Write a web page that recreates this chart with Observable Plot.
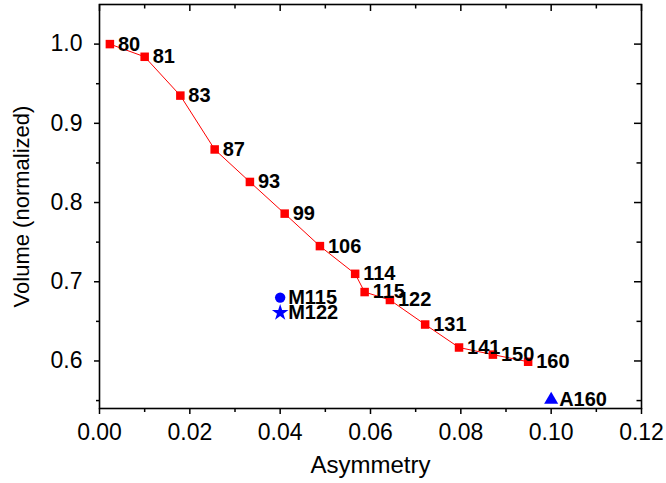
<!DOCTYPE html>
<html>
<head>
<meta charset="utf-8">
<script src="https://cdn.jsdelivr.net/npm/d3@7"></script>
<script src="https://cdn.jsdelivr.net/npm/@observablehq/plot@0.6"></script>
<style>
  html, body { margin: 0; padding: 0; background: #fff; }
  #chart svg { display: block; font-family: "Liberation Sans", Arial, sans-serif; }
</style>
</head>
<body>
<div id="chart"></div>
<script>
// Main series: label, asymmetry, normalized volume
const names = ["80", "81", "83", "87", "93", "99", "106", "114", "115", "122", "131", "141", "150", "160"];
const asym  = [0.0023, 0.0100, 0.0179, 0.0255, 0.0333, 0.0410, 0.0488, 0.0566, 0.0587, 0.0643, 0.0721, 0.0796, 0.0871, 0.0949];
const vol   = [1.000, 0.984, 0.935, 0.867, 0.826, 0.786, 0.745, 0.710, 0.687, 0.677, 0.646, 0.617, 0.608, 0.599];

// Separate reference points
const extraNames   = ["M115", "M122", "A160"];
const extraAsym    = [0.040, 0.040, 0.100];
const extraVol     = [0.680, 0.661, 0.551];
const extraSymbols = ["circle", "star", "triangle"];

// Axis ticks
const xMajor = [0, 0.02, 0.04, 0.06, 0.08, 0.10, 0.12];
const xMinor = [0.01, 0.03, 0.05, 0.07, 0.09, 0.11];
const yMajor = [0.6, 0.7, 0.8, 0.9, 1.0];
const yMinor = [0.55, 0.65, 0.75, 0.85, 0.95];

const series = names.map((n, i) => ({name: n, x: asym[i], y: vol[i]}));
const extras = extraNames.map((n, i) => ({name: n, x: extraAsym[i], y: extraVol[i], symbol: extraSymbols[i]}));

const W = 666, H = 483;
const mL = 99, mR = 25, mT = 4, mB = 75;
const innerW = W - mL - mR, innerH = H - mT - mB;

const chart = Plot.plot({
  width: W,
  height: H,
  marginLeft: mL,
  marginRight: mR,
  marginTop: mT,
  marginBottom: mB,
  style: {background: "#fff", fontFamily: "Liberation Sans, Arial, sans-serif"},
  x: {domain: [0, 0.12]},
  y: {domain: [0.54, 1.05]},
  marks: [
    // bottom axis (outward ticks)
    Plot.axisX({ticks: xMajor, tickSize: 6, tickPadding: 9, tickFormat: d3.format(".2f"),
      fontSize: 23, label: null, strokeWidth: 1.5, color: "#000"}),
    Plot.axisX({ticks: xMinor, tickSize: 4, text: null, label: null, strokeWidth: 1.5}),
    // left axis (outward ticks)
    Plot.axisY({ticks: yMajor, tickSize: 5, tickPadding: 12, tickFormat: d3.format(".1f"),
      fontSize: 23, label: null, strokeWidth: 1.5, color: "#000"}),
    Plot.axisY({ticks: yMinor, tickSize: 3, text: null, label: null, strokeWidth: 1.5}),
    // mirror ticks on top and right, pointing inward
    Plot.tickX(xMajor, {x: d => d, insetBottom: innerH - 7, stroke: "#000", strokeWidth: 1.5}),
    Plot.tickX(xMinor, {x: d => d, insetBottom: innerH - 4.5, stroke: "#000", strokeWidth: 1.5}),
    Plot.tickY(yMajor, {y: d => d, insetLeft: innerW - 7, stroke: "#000", strokeWidth: 1.5}),
    Plot.tickY(yMinor, {y: d => d, insetLeft: innerW - 4.5, stroke: "#000", strokeWidth: 1.5}),
    Plot.frame({stroke: "#000", strokeWidth: 1.6}),
    // axis titles
    Plot.text(["Asymmetry"], {frameAnchor: "bottom", dy: 57, text: d => d, fontSize: 24,
      textAnchor: "middle", lineAnchor: "middle", fill: "#000"}),
    Plot.text(["Volume (normalized)"], {frameAnchor: "left", dx: -78, rotate: -90, text: d => d,
      fontSize: 22, textAnchor: "middle", lineAnchor: "middle", fill: "#000"}),
    // main series
    Plot.line(series, {x: "x", y: "y", stroke: "#ff0000", strokeWidth: 1}),
    Plot.dot(series, {x: "x", y: "y", symbol: "square", r: 4.8, fill: "#ff0000", stroke: "none"}),
    Plot.text(series, {x: "x", y: "y", text: "name", dx: 8, textAnchor: "start", lineAnchor: "middle",
      fontSize: 20, fontWeight: "bold", fill: "#000"}),
    // reference points
    Plot.dot(extras, {x: "x", y: "y", symbol: "symbol", r: 5.2, fill: "#0000ff", stroke: "none"}),
    Plot.text(extras, {x: "x", y: "y", text: "name", dx: 8, textAnchor: "start", lineAnchor: "middle",
      fontSize: 20, fontWeight: "bold", fill: "#000"})
  ]
});

document.getElementById("chart").appendChild(chart);
</script>
</body>
</html>
